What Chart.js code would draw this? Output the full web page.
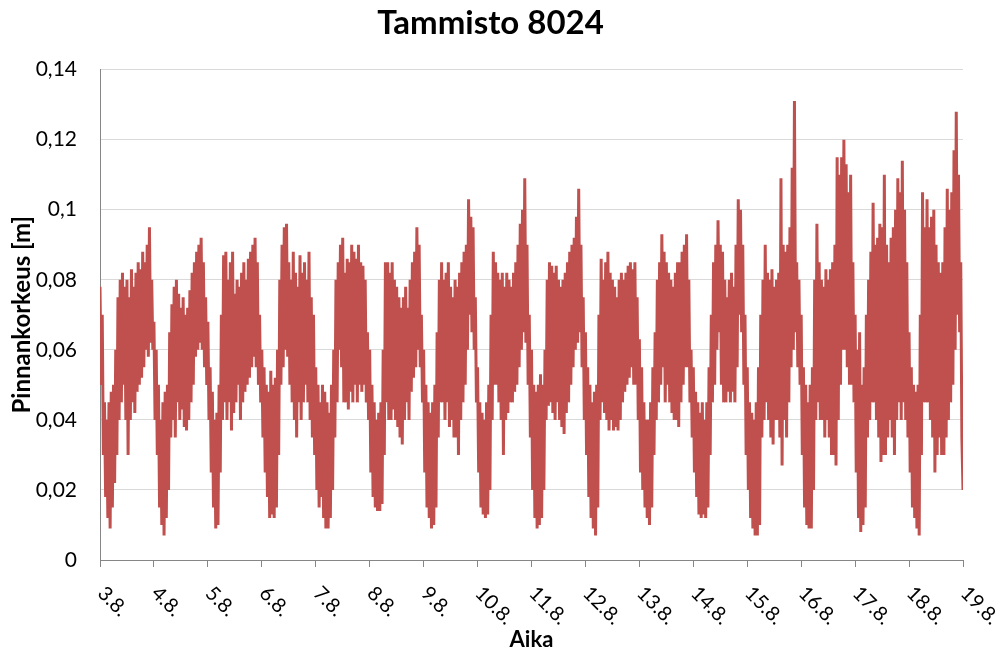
<!DOCTYPE html>
<html>
<head>
<meta charset="utf-8">
<script src="https://cdn.jsdelivr.net/npm/chart.js@4/dist/chart.umd.min.js"></script>
<style>
  html, body { margin: 0; padding: 0; background: #fff; }
  #wrap { width: 1000px; height: 653px; }
</style>
</head>
<body>
<div id="wrap"><canvas id="myChart"></canvas></div>
<script>
// tick labels for the days (3.8. ... 19.8.)
const dayLabels = ["3.8.", "4.8.", "5.8.", "6.8.", "7.8.", "8.8.", "9.8.", "10.8.", "11.8.",
    "12.8.", "13.8.", "14.8.", "15.8.", "16.8.", "17.8.", "18.8.", "19.8."];

// water level [m]: for every hour the top and the bottom of the trace (max, min, max, min ...)
const aug03 = [0.078, 0.050, 0.070, 0.030, 0.045, 0.018, 0.040, 0.012, 0.045, 0.009, 0.048, 0.015, 0.050, 0.022, 0.060, 0.030,
    0.075, 0.040, 0.080, 0.045, 0.082, 0.050, 0.078, 0.040, 0.080, 0.030, 0.075, 0.040, 0.083, 0.045, 0.078, 0.042,
    0.082, 0.048, 0.085, 0.050, 0.083, 0.052, 0.088, 0.055, 0.085, 0.060, 0.090, 0.058, 0.095, 0.062, 0.080, 0.060];
const aug04 = [0.068, 0.040, 0.060, 0.030, 0.050, 0.015, 0.040, 0.010, 0.045, 0.007, 0.048, 0.012, 0.050, 0.020, 0.065, 0.035,
    0.073, 0.040, 0.078, 0.035, 0.080, 0.045, 0.076, 0.040, 0.072, 0.043, 0.075, 0.038, 0.070, 0.037, 0.072, 0.040,
    0.077, 0.045, 0.082, 0.050, 0.085, 0.058, 0.088, 0.060, 0.090, 0.062, 0.092, 0.060, 0.085, 0.055, 0.075, 0.050];
const aug05 = [0.068, 0.040, 0.055, 0.025, 0.048, 0.015, 0.040, 0.009, 0.042, 0.010, 0.050, 0.025, 0.070, 0.040, 0.087, 0.045,
    0.088, 0.040, 0.080, 0.045, 0.085, 0.037, 0.088, 0.042, 0.076, 0.045, 0.080, 0.050, 0.078, 0.040, 0.082, 0.045,
    0.085, 0.048, 0.080, 0.050, 0.086, 0.052, 0.088, 0.055, 0.090, 0.058, 0.092, 0.055, 0.085, 0.050, 0.070, 0.045];
const aug06 = [0.060, 0.035, 0.055, 0.025, 0.050, 0.018, 0.048, 0.012, 0.054, 0.013, 0.050, 0.012, 0.052, 0.015, 0.060, 0.030,
    0.080, 0.050, 0.090, 0.055, 0.095, 0.060, 0.096, 0.058, 0.085, 0.050, 0.080, 0.045, 0.088, 0.040, 0.082, 0.035,
    0.078, 0.045, 0.087, 0.040, 0.082, 0.045, 0.085, 0.050, 0.080, 0.045, 0.088, 0.040, 0.075, 0.035, 0.070, 0.030];
const aug07 = [0.055, 0.020, 0.050, 0.015, 0.045, 0.018, 0.050, 0.012, 0.048, 0.009, 0.045, 0.009, 0.042, 0.012, 0.050, 0.020,
    0.060, 0.035, 0.080, 0.045, 0.085, 0.060, 0.090, 0.055, 0.092, 0.045, 0.082, 0.045, 0.086, 0.043, 0.085, 0.048,
    0.090, 0.045, 0.088, 0.050, 0.086, 0.045, 0.090, 0.050, 0.085, 0.048, 0.084, 0.050, 0.080, 0.045, 0.065, 0.040];
const aug08 = [0.060, 0.025, 0.050, 0.018, 0.045, 0.015, 0.040, 0.014, 0.042, 0.014, 0.045, 0.016, 0.060, 0.030, 0.085, 0.045,
    0.085, 0.040, 0.082, 0.040, 0.085, 0.043, 0.080, 0.040, 0.078, 0.038, 0.075, 0.035, 0.072, 0.033, 0.075, 0.040,
    0.078, 0.045, 0.072, 0.040, 0.080, 0.048, 0.085, 0.052, 0.088, 0.055, 0.095, 0.060, 0.090, 0.055, 0.070, 0.045];
const aug09 = [0.060, 0.025, 0.050, 0.015, 0.045, 0.012, 0.042, 0.009, 0.045, 0.010, 0.050, 0.015, 0.065, 0.035, 0.080, 0.045,
    0.085, 0.045, 0.080, 0.040, 0.082, 0.045, 0.085, 0.038, 0.078, 0.040, 0.075, 0.035, 0.080, 0.035, 0.078, 0.030,
    0.082, 0.040, 0.085, 0.045, 0.088, 0.050, 0.090, 0.060, 0.103, 0.070, 0.098, 0.065, 0.095, 0.060, 0.075, 0.045];
const aug10 = [0.055, 0.025, 0.045, 0.015, 0.042, 0.013, 0.040, 0.012, 0.045, 0.013, 0.050, 0.020, 0.070, 0.040, 0.088, 0.050,
    0.085, 0.050, 0.082, 0.045, 0.080, 0.040, 0.082, 0.030, 0.078, 0.040, 0.082, 0.042, 0.080, 0.045, 0.078, 0.045,
    0.082, 0.048, 0.085, 0.050, 0.090, 0.055, 0.096, 0.060, 0.100, 0.065, 0.109, 0.062, 0.090, 0.050, 0.070, 0.035];
const aug11 = [0.060, 0.020, 0.050, 0.012, 0.048, 0.009, 0.050, 0.010, 0.053, 0.012, 0.050, 0.020, 0.060, 0.040, 0.080, 0.044,
    0.085, 0.045, 0.084, 0.042, 0.082, 0.040, 0.084, 0.045, 0.080, 0.040, 0.078, 0.038, 0.080, 0.036, 0.082, 0.042,
    0.085, 0.045, 0.088, 0.050, 0.090, 0.055, 0.092, 0.060, 0.098, 0.062, 0.106, 0.065, 0.090, 0.055, 0.075, 0.040];
const aug12 = [0.065, 0.030, 0.055, 0.018, 0.050, 0.012, 0.045, 0.009, 0.048, 0.007, 0.050, 0.015, 0.070, 0.040, 0.086, 0.045,
    0.080, 0.042, 0.085, 0.040, 0.088, 0.037, 0.082, 0.040, 0.080, 0.037, 0.078, 0.038, 0.075, 0.037, 0.080, 0.040,
    0.082, 0.045, 0.080, 0.048, 0.082, 0.050, 0.084, 0.052, 0.085, 0.055, 0.083, 0.050, 0.085, 0.050, 0.075, 0.040];
const aug13 = [0.063, 0.025, 0.055, 0.020, 0.045, 0.015, 0.040, 0.012, 0.040, 0.010, 0.045, 0.015, 0.055, 0.030, 0.065, 0.040,
    0.080, 0.045, 0.085, 0.050, 0.093, 0.055, 0.088, 0.045, 0.085, 0.050, 0.082, 0.045, 0.080, 0.042, 0.078, 0.040,
    0.082, 0.040, 0.085, 0.038, 0.085, 0.045, 0.088, 0.050, 0.090, 0.055, 0.093, 0.055, 0.080, 0.045, 0.060, 0.035];
const aug14 = [0.055, 0.025, 0.048, 0.018, 0.045, 0.013, 0.042, 0.012, 0.045, 0.013, 0.040, 0.012, 0.045, 0.015, 0.055, 0.030,
    0.070, 0.045, 0.085, 0.050, 0.090, 0.060, 0.097, 0.065, 0.090, 0.050, 0.088, 0.045, 0.080, 0.045, 0.075, 0.048,
    0.080, 0.045, 0.082, 0.048, 0.078, 0.045, 0.090, 0.055, 0.103, 0.070, 0.100, 0.065, 0.090, 0.050, 0.070, 0.030];
const aug15 = [0.055, 0.020, 0.045, 0.012, 0.042, 0.009, 0.040, 0.007, 0.045, 0.007, 0.055, 0.010, 0.070, 0.035, 0.080, 0.040,
    0.090, 0.045, 0.082, 0.040, 0.080, 0.035, 0.083, 0.033, 0.078, 0.040, 0.080, 0.040, 0.082, 0.035, 0.109, 0.027,
    0.090, 0.040, 0.088, 0.035, 0.090, 0.045, 0.095, 0.055, 0.112, 0.060, 0.131, 0.065, 0.085, 0.055, 0.080, 0.050];
const aug16 = [0.070, 0.030, 0.055, 0.015, 0.050, 0.010, 0.045, 0.009, 0.050, 0.009, 0.055, 0.020, 0.080, 0.040, 0.096, 0.045,
    0.085, 0.040, 0.080, 0.040, 0.078, 0.035, 0.083, 0.040, 0.080, 0.035, 0.083, 0.030, 0.085, 0.030, 0.090, 0.027,
    0.115, 0.040, 0.110, 0.050, 0.115, 0.060, 0.120, 0.060, 0.113, 0.055, 0.105, 0.050, 0.110, 0.050, 0.085, 0.045];
const aug17 = [0.070, 0.025, 0.060, 0.012, 0.065, 0.008, 0.050, 0.010, 0.055, 0.015, 0.070, 0.035, 0.080, 0.040, 0.088, 0.045,
    0.102, 0.045, 0.090, 0.040, 0.092, 0.035, 0.096, 0.028, 0.095, 0.030, 0.110, 0.030, 0.090, 0.035, 0.085, 0.040,
    0.092, 0.035, 0.095, 0.030, 0.100, 0.040, 0.109, 0.045, 0.105, 0.040, 0.114, 0.045, 0.100, 0.040, 0.085, 0.035];
const aug18 = [0.065, 0.025, 0.055, 0.015, 0.050, 0.012, 0.048, 0.009, 0.050, 0.007, 0.070, 0.030, 0.105, 0.045, 0.095, 0.045,
    0.103, 0.045, 0.095, 0.040, 0.098, 0.035, 0.100, 0.025, 0.090, 0.030, 0.085, 0.035, 0.082, 0.030, 0.085, 0.030,
    0.095, 0.035, 0.106, 0.040, 0.100, 0.045, 0.105, 0.050, 0.117, 0.060, 0.128, 0.070, 0.110, 0.065, 0.085, 0.035];
const lastValue = 0.020; // 19.8. 00:00

const days = [aug03, aug04, aug05, aug06, aug07, aug08, aug09, aug10, aug11, aug12, aug13, aug14, aug15, aug16, aug17, aug18];
const lineColor = "#C0504D";

function buildPoints() {
    const pts = [];
    days.forEach((vals, d) => {
        vals.forEach((v, i) => pts.push({ x: d + i / vals.length, y: v }));
    });
    pts.push({ x: days.length, y: lastValue });
    return pts;
}

function fmtY(v) {
    //0,02 style decimals
    return String(Number(v.toFixed(2))).replace(".", ",");
}

// rotated (clockwise) day labels under the x axis
const dayLabelPlugin = {
    id: "dayLabels",
    afterDraw(chart) {
        const xs = chart.scales.x;
        const ctx = chart.ctx;
        ctx.save();
        ctx.font = "20px Lato";
        ctx.fillStyle = "#000";
        ctx.textAlign = "left";
        ctx.textBaseline = "middle";
        dayLabels.forEach((lab, i) => {
            const px = xs.getPixelForValue(i);
            ctx.save();
            ctx.translate(px + 1, xs.top + 30);
            ctx.rotate(Math.PI / 4);
            ctx.fillText(lab, 0, 0);
            ctx.restore();
        });
        ctx.restore();
    }
};

new Chart("myChart", {
    type: "line",
    data: {
        datasets: [{
            data: buildPoints(),
            borderColor: lineColor,
            backgroundColor: lineColor,
            borderWidth: 3,
            pointRadius: 0,
            tension: 0,
            fill: false
        }]
    },
    options: {
        responsive: true,
        maintainAspectRatio: false,
        animation: false,
        layout: { padding: { left: 18, right: 37, top: 0, bottom: 0 } },
        plugins: {
            legend: { display: false },
            tooltip: { enabled: false },
            title: {
                display: true,
                text: "Tammisto 8024",
                color: "#000",
                font: { family: "Lato", size: 33, weight: "bold" },
                padding: { top: 4, bottom: 26 }
            }
        },
        scales: {
            x: {
                type: "linear",
                min: 0,
                max: 16,
                afterFit: (s) => { s.height = 93; },
                ticks: { stepSize: 1, display: false },
                grid: {
                    drawOnChartArea: false,
                    drawTicks: true,
                    tickLength: 7,
                    color: "#868686"
                },
                border: { color: "#868686", width: 1 },
                title: {
                    display: true,
                    text: "Aika",
                    color: "#000",
                    font: { family: "Lato", size: 22, weight: "bold" },
                    padding: { top: 0, bottom: 0 }
                }
            },
            y: {
                min: 0,
                max: 0.14,
                afterFit: (s) => { s.width = 82; },
                ticks: {
                    stepSize: 0.02,
                    padding: 23,
                    color: "#000",
                    font: { family: "Lato", size: 21 },
                    callback: (v) => fmtY(v)
                },
                grid: { color: "#d9d9d9", drawTicks: false },
                border: { color: "#868686", width: 1 },
                title: {
                    display: true,
                    text: "Pinnankorkeus [m]",
                    color: "#000",
                    font: { family: "Lato", size: 24, weight: "bold" },
                    padding: { top: -10, bottom: 0 }
                }
            }
        }
    },
    plugins: [dayLabelPlugin]
});
</script>
</body>
</html>
